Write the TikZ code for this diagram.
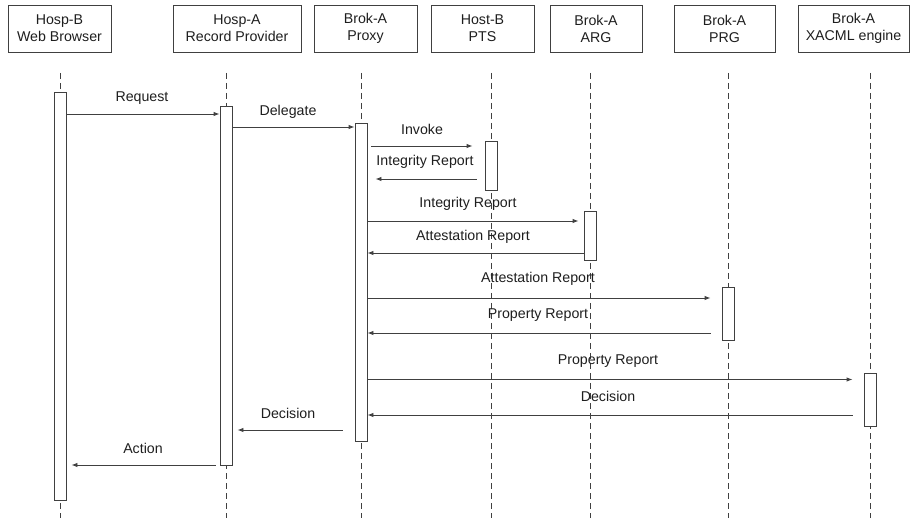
\documentclass[tikz,border=0pt]{standalone}
\usepackage{fontspec}
\setmainfont{Liberation Sans}
\usetikzlibrary{arrows.meta}
\definecolor{ln}{HTML}{404040}
\definecolor{tx}{HTML}{1E1E1E}
\tikzset{
  headbox/.style={draw=ln, line width=0.9pt, minimum height=47pt, inner sep=0pt, align=center, text=tx, font=\fontsize{14.2}{17}\selectfont},
  lifeline/.style={draw=ln, line width=0.8pt, dash pattern=on 6pt off 4pt},
  actbox/.style={draw=ln, fill=white, line width=0.9pt, minimum width=12pt, inner sep=0pt},
  msg/.style={draw=ln, line width=0.9pt, -{Latex[length=6pt,width=4.5pt]}},
  msglabel/.style={text=tx, inner sep=0pt, font=\fontsize{14.2}{17}\selectfont}
}
\begin{document}
\begin{tikzpicture}[x=1pt,y=-1pt]
\useasboundingbox (0,0) rectangle (910,518);
% header boxes
\node[headbox, minimum width=103pt] (h1) at (59.5,28.5) {Hosp-B\\Web Browser};
\node[headbox, minimum width=128pt] (h2) at (237,28.5) {Hosp-A\\Record Provider};
\node[headbox, minimum width=103pt] (h3) at (365.5,28.5) {Brok-A\\Proxy};
\node[headbox, minimum width=103pt] (h4) at (482.5,28.5) {Host-B\\PTS};
\node[headbox, minimum width=92pt] (h5) at (596,28.5) {Brok-A\\ARG};
\node[headbox, minimum width=101pt] (h6) at (724.5,28.5) {Brok-A\\PRG};
\node[headbox, minimum width=111pt] (h7) at (853.5,28.5) {Brok-A\\XACML engine};
% lifelines
\foreach \n/\x in {1/60,2/226,3/361,4/491,5/590,6/728,7/870}{
  \coordinate (t\n) at (\x,73);
  \coordinate (b\n) at (\x,518);
  \draw[lifeline] (t\n) -- (b\n);
}
% activation boxes
\node[actbox, minimum height=408pt] (a1) at (60,296) {};
\node[actbox, minimum height=359pt] (a2) at (226,285.5) {};
\node[actbox, minimum height=318pt] (a3) at (361,282) {};
\node[actbox, minimum height=49pt] (a4) at (491,165.5) {};
\node[actbox, minimum height=49pt] (a5) at (590,235.5) {};
\node[actbox, minimum height=53pt] (a6) at (728,313.5) {};
\node[actbox, minimum height=53pt] (a7) at (870,400) {};
% messages
\draw[msg] (a1.east |- 0,114) -- (a2.west |- 0,114);
\node[msglabel] (m1) at (142,98) {Request};
\draw[msg] (a2.east |- 0,127) -- (a3.west |- 0,127);
\node[msglabel] (m2) at (288,112) {Delegate};
\draw[msg, shorten <=4pt, shorten >=12pt] (a3.east |- 0,146) -- (a4.west |- 0,146);
\node[msglabel] (m3) at (422,129) {Invoke};
\draw[msg, shorten <=8pt, shorten >=8pt] (a4.west |- 0,179) -- (a3.east |- 0,179);
\node[msglabel] (m4) at (425,162) {Integrity Report};
\draw[msg, shorten >=5pt] (a3.east |- 0,221) -- (a5.west |- 0,221);
\node[msglabel] (m5) at (468,204) {Integrity Report};
\draw[msg] (a5.west |- 0,253) -- (a3.east |- 0,253);
\node[msglabel] (m6) at (473,237) {Attestation Report};
\draw[msg, shorten >=11pt] (a3.east |- 0,298) -- (a6.west |- 0,298);
\node[msglabel] (m7) at (538,279) {Attestation Report};
\draw[msg, shorten <=11pt] (a6.west |- 0,333) -- (a3.east |- 0,333);
\node[msglabel] (m8) at (538,315) {Property Report};
\draw[msg, shorten >=11pt] (a3.east |- 0,379.5) -- (a7.west |- 0,379.5);
\node[msglabel] (m9) at (608,361) {Property Report};
\draw[msg, shorten <=11pt] (a7.west |- 0,415) -- (a3.east |- 0,415);
\node[msglabel] (m10) at (608,396) {Decision};
\draw[msg, shorten <=12pt, shorten >=5pt] (a3.west |- 0,430) -- (a2.east |- 0,430);
\node[msglabel] (m11) at (288,413) {Decision};
\draw[msg, shorten <=4pt, shorten >=5pt] (a2.west |- 0,465) -- (a1.east |- 0,465);
\node[msglabel] (m12) at (143,448) {Action};
\end{tikzpicture}
\end{document}
